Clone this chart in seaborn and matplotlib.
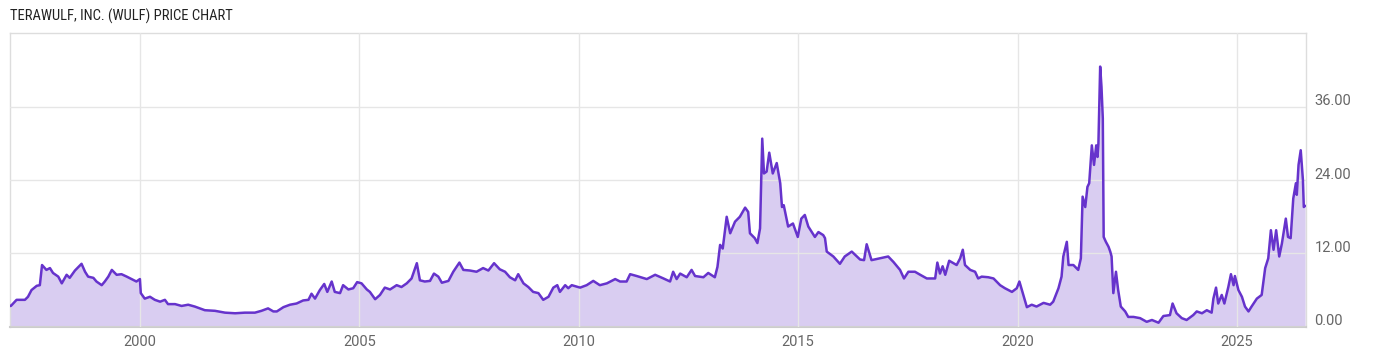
import matplotlib
matplotlib.use("Agg")
import matplotlib.pyplot as plt
from matplotlib import font_manager
from matplotlib.transforms import ScaledTranslation
import seaborn as sns
import pandas as pd

# ---- data ----
years = [
    1997.04, 1997.06, 1997.19, 1997.38, 1997.45, 1997.53, 1997.65, 1997.72, 1997.77, 1997.87,
    1997.95, 1998.02, 1998.14, 1998.22, 1998.33, 1998.40, 1998.52, 1998.67, 1998.75, 1998.82,
    1998.94, 1999.01, 1999.13, 1999.20, 1999.28, 1999.36, 1999.47, 1999.58, 1999.70, 1999.81,
    1999.92, 2000.00, 2000.02, 2000.11, 2000.23, 2000.34, 2000.46, 2000.57, 2000.64, 2000.80,
    2000.95, 2001.10, 2001.25, 2001.48, 2001.71, 2001.94, 2002.17, 2002.39, 2002.62, 2002.77,
    2002.92, 2003.04, 2003.12, 2003.27, 2003.42, 2003.57, 2003.72, 2003.84, 2003.91, 2003.99,
    2004.10, 2004.20, 2004.27, 2004.37, 2004.44, 2004.56, 2004.63, 2004.75, 2004.86, 2004.95,
    2005.05, 2005.17, 2005.24, 2005.36, 2005.47, 2005.58, 2005.70, 2005.85, 2005.96, 2006.08,
    2006.19, 2006.31, 2006.38, 2006.49, 2006.61, 2006.70, 2006.80, 2006.88, 2007.03, 2007.14,
    2007.28, 2007.37, 2007.52, 2007.67, 2007.82, 2007.94, 2008.07, 2008.20, 2008.32, 2008.43,
    2008.55, 2008.62, 2008.74, 2008.85, 2008.96, 2009.08, 2009.19, 2009.31, 2009.42, 2009.51,
    2009.57, 2009.69, 2009.76, 2009.84, 2010.03, 2010.18, 2010.33, 2010.48, 2010.64, 2010.83,
    2010.94, 2011.09, 2011.17, 2011.32, 2011.55, 2011.74, 2011.93, 2012.08, 2012.15, 2012.23,
    2012.31, 2012.46, 2012.57, 2012.65, 2012.84, 2012.95, 2013.10, 2013.16, 2013.22, 2013.28,
    2013.37, 2013.45, 2013.56, 2013.67, 2013.79, 2013.86, 2013.90, 2014.01, 2014.07, 2014.13,
    2014.18, 2014.22, 2014.28, 2014.34, 2014.42, 2014.51, 2014.59, 2014.63, 2014.67, 2014.77,
    2014.88, 2014.99, 2015.07, 2015.15, 2015.23, 2015.38, 2015.46, 2015.57, 2015.61, 2015.65,
    2015.80, 2015.95, 2016.06, 2016.22, 2016.41, 2016.50, 2016.56, 2016.67, 2016.86, 2017.05,
    2017.17, 2017.32, 2017.41, 2017.51, 2017.66, 2017.78, 2017.93, 2018.12, 2018.17, 2018.23,
    2018.29, 2018.35, 2018.44, 2018.61, 2018.69, 2018.75, 2018.80, 2018.92, 2019.03, 2019.10,
    2019.18, 2019.33, 2019.45, 2019.60, 2019.71, 2019.87, 2019.98, 2020.04, 2020.13, 2020.21,
    2020.32, 2020.43, 2020.59, 2020.74, 2020.81, 2020.93, 2021.00, 2021.04, 2021.12, 2021.16,
    2021.27, 2021.38, 2021.44, 2021.48, 2021.54, 2021.59, 2021.63, 2021.69, 2021.74, 2021.79,
    2021.82, 2021.84, 2021.88, 2021.91, 2021.94, 2021.96, 2022.01, 2022.07, 2022.11, 2022.14,
    2022.18, 2022.24, 2022.29, 2022.35, 2022.45, 2022.52, 2022.64, 2022.79, 2022.94, 2023.06,
    2023.21, 2023.32, 2023.47, 2023.53, 2023.62, 2023.74, 2023.85, 2024.00, 2024.08, 2024.20,
    2024.31, 2024.42, 2024.46, 2024.52, 2024.57, 2024.65, 2024.71, 2024.80, 2024.86, 2024.92,
    2024.95, 2025.03, 2025.11, 2025.18, 2025.26, 2025.33, 2025.45, 2025.56, 2025.64, 2025.71,
    2025.77, 2025.83, 2025.89, 2025.96, 2026.02, 2026.11, 2026.16, 2026.22, 2026.28, 2026.34,
    2026.36, 2026.40, 2026.45, 2026.50, 2026.52, 2026.55,
]
prices = [
    3.4, 3.4, 4.4, 4.4, 4.9, 6.0, 6.7, 6.8, 10.1, 9.3,
    9.6, 8.8, 8.2, 7.1, 8.5, 8.0, 9.2, 10.3, 9.0, 8.2,
    8.0, 7.4, 6.8, 7.4, 8.2, 9.3, 8.5, 8.6, 8.2, 7.8,
    7.4, 7.8, 5.5, 4.6, 4.9, 4.4, 4.1, 4.4, 3.7, 3.7,
    3.4, 3.6, 3.3, 2.7, 2.6, 2.3, 2.2, 2.3, 2.3, 2.6,
    3.0, 2.5, 2.5, 3.2, 3.6, 3.8, 4.3, 4.4, 5.4, 4.6,
    6.0, 7.0, 5.7, 7.4, 5.7, 5.5, 6.8, 6.1, 6.3, 7.3,
    7.1, 6.1, 5.7, 4.5, 5.2, 6.4, 6.1, 6.8, 6.5, 7.1,
    7.9, 10.4, 7.6, 7.4, 7.5, 8.7, 8.2, 7.2, 7.5, 9.0,
    10.5, 9.3, 9.2, 9.0, 9.6, 9.2, 10.4, 9.4, 9.0, 8.1,
    7.6, 8.6, 7.1, 6.5, 5.7, 5.5, 4.4, 4.9, 6.4, 6.8,
    5.7, 6.8, 6.3, 6.8, 6.4, 6.8, 7.5, 6.8, 7.1, 7.8,
    7.4, 7.4, 8.6, 8.3, 7.8, 8.5, 7.9, 7.4, 9.0, 7.8,
    8.7, 8.1, 9.3, 8.3, 8.1, 8.8, 8.1, 9.8, 13.4, 12.8,
    18.0, 15.3, 17.2, 18.0, 19.5, 18.8, 15.3, 14.5, 13.7, 16.1,
    30.8, 25.1, 25.4, 28.5, 25.1, 26.8, 23.5, 19.6, 19.9, 16.4,
    16.9, 14.7, 17.7, 18.3, 16.4, 14.7, 15.5, 15.0, 14.5, 12.3,
    11.5, 10.3, 11.5, 12.3, 11.0, 10.9, 13.5, 10.9, 11.2, 11.5,
    10.6, 9.3, 7.9, 9.0, 9.0, 8.5, 7.9, 7.9, 10.5, 8.7,
    9.9, 8.5, 10.8, 10.1, 11.2, 12.6, 10.1, 9.3, 9.0, 7.9,
    8.2, 8.1, 7.9, 6.8, 6.3, 5.7, 6.3, 7.4, 5.2, 3.2,
    3.6, 3.3, 3.9, 3.6, 4.1, 6.3, 8.2, 11.5, 13.9, 10.1,
    10.1, 9.3, 11.2, 21.3, 19.6, 22.9, 23.5, 29.7, 26.5, 29.7,
    27.8, 30.0, 42.6, 39.3, 34.1, 14.7, 13.9, 13.1, 12.3, 11.5,
    5.5, 9.0, 6.0, 3.3, 2.5, 1.6, 1.6, 1.4, 0.8, 1.1,
    0.65, 1.75, 1.9, 3.8, 2.2, 1.4, 1.1, 1.9, 2.5, 2.2,
    2.7, 2.3, 4.6, 6.4, 3.8, 5.2, 3.8, 6.5, 8.6, 6.8,
    8.3, 6.0, 4.9, 3.3, 2.5, 3.3, 4.6, 5.2, 9.6, 11.2,
    15.8, 12.6, 15.8, 11.5, 13.6, 17.7, 14.7, 14.5, 21.0, 23.5,
    21.6, 26.5, 28.9, 24.0, 19.6, 19.8,
]
x_ticks = [2000, 2005, 2010, 2015, 2020, 2025]
x_tick_labels = ["2000", "2005", "2010", "2015", "2020", "2025"]
y_ticks = [0, 12, 24, 36]
y_tick_labels = ["0.00", "12.00", "24.00", "36.00"]
title = "TERAWULF, INC. (WULF) PRICE CHART"

df = pd.DataFrame({"year": years, "price": prices})

sns.set_theme(style="white")
plt.rcParams["font.family"] = ["Roboto", "DejaVu Sans"]

installed = {f.name for f in font_manager.fontManager.ttflist}
title_family = ["Roboto Condensed"] if "Roboto Condensed" in installed else ["Roboto"]
title_size = 10.5 if "Roboto Condensed" in installed else 10

LINE = "#6633cc"
FILL = "#d9cdf1"
GRID = "#e6e6e6"
TXT = "#666666"

W, H = 1400, 357
fig = plt.figure(figsize=(W / 100, H / 100), dpi=100)
ax = fig.add_axes([10 / W, (H - 326.7) / H, 1296 / W, (326.7 - 33) / H])

ax.fill_between(df["year"], df["price"], 0, color=FILL, linewidth=0, zorder=1)
sns.lineplot(data=df, x="year", y="price", ax=ax, color=LINE, linewidth=1.8,
             zorder=3, estimator=None, sort=False)

ax.set_xlim(1997.04, 2026.57)
ax.set_ylim(0, 48.1)
ax.set_xticks(x_ticks)
ax.set_xticklabels(x_tick_labels)
ax.set_yticks(y_ticks)
ax.set_yticklabels(y_tick_labels)
ax.yaxis.tick_right()
ax.set_xlabel("")
ax.set_ylabel("")

ax.set_axisbelow(False)
ax.grid(True, axis="both", color=GRID, linewidth=1.0, zorder=2)
ax.tick_params(axis="both", length=0, labelsize=10.5, labelcolor=TXT)
ax.tick_params(axis="x", pad=6)
ax.tick_params(axis="y", pad=6)

for s in ["left", "top", "right"]:
    ax.spines[s].set_color("#dddddd")
    ax.spines[s].set_linewidth(1.0)
ax.spines["bottom"].set_color("#cccccc")
ax.spines["bottom"].set_linewidth(1.5)

off = ScaledTranslation(0, 0.07, fig.dpi_scale_trans)
for lab in ax.get_yticklabels():
    lab.set_transform(lab.get_transform() + off)

fig.text(10 / W, 1 - 16 / H, title, ha="left", va="center",
         fontsize=title_size, color="#222222", family=title_family)

fig.savefig("out.png", dpi=100)
